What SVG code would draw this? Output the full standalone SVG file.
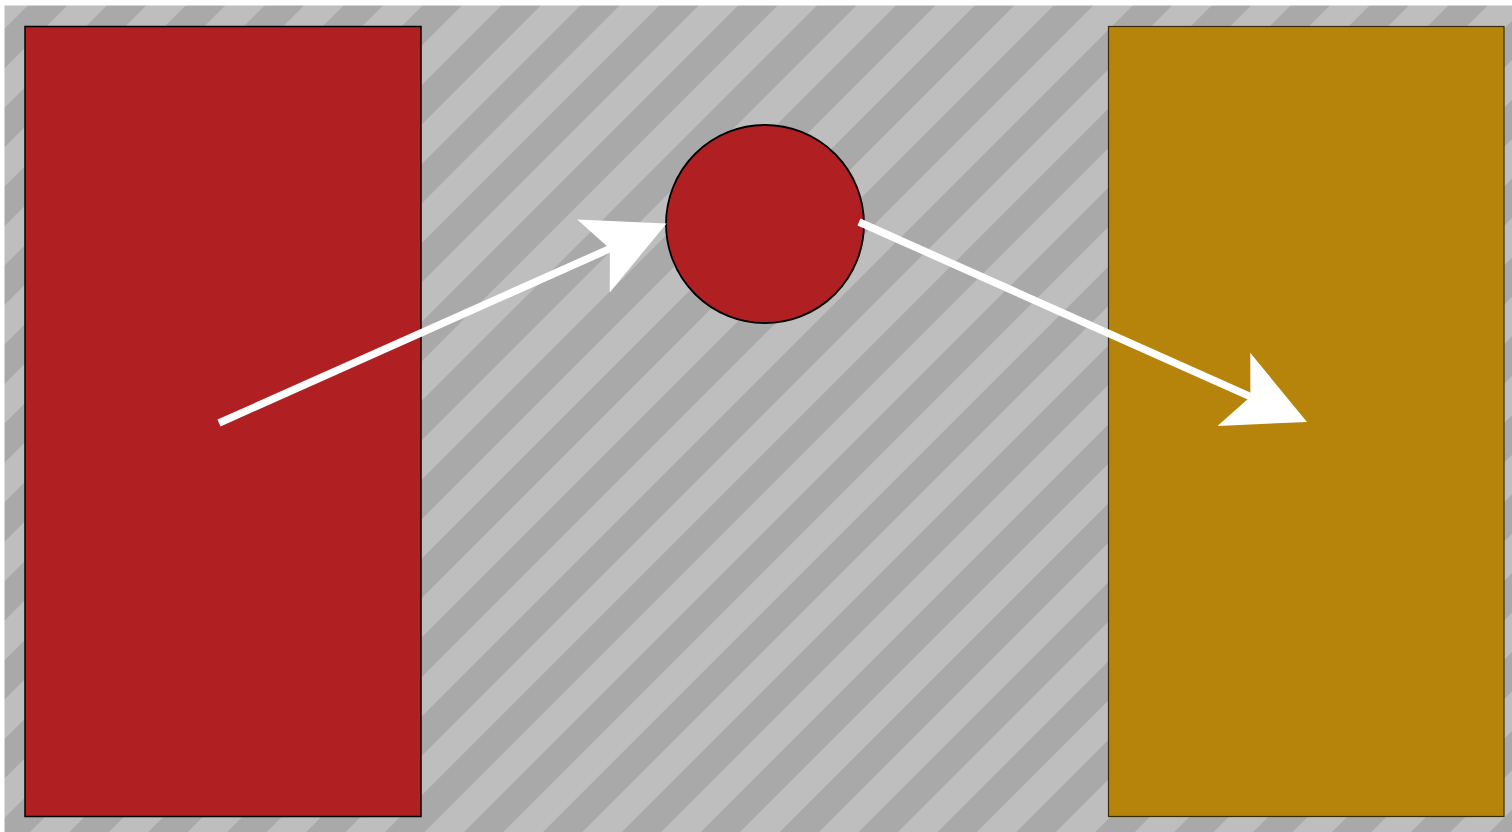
<svg xmlns="http://www.w3.org/2000/svg" width="1512" height="832" viewBox="0 0 1512 832">
  <defs>
    <pattern id="stripes" patternUnits="userSpaceOnUse" x="51.5" y="0" width="55.8" height="20" patternTransform="rotate(45)">
      <rect x="0" y="0" width="55.8" height="20" fill="#a9a9a9"/>
      <rect x="0" y="0" width="27.9" height="20" fill="#bebebe"/>
    </pattern>
    <marker id="head" markerUnits="userSpaceOnUse" markerWidth="80" markerHeight="80" refX="18" refY="40" orient="auto" viewBox="0 0 80 80">
      <path d="M0,0 L80,40 L0,80 L18,40 Z" fill="#ffffff"/>
    </marker>
    <style>
      .conn { stroke: #ffffff; stroke-width: 7.5; fill: none; marker-end: url(#head); }
    </style>
  </defs>
  <rect x="0" y="0" width="1512" height="832" fill="#ffffff"/>
  <rect id="background" x="4.5" y="5.5" width="1507.5" height="826.5" fill="url(#stripes)"/>
  <g id="node-left">
    <rect x="25" y="26.5" width="396" height="790" fill="#b02023" stroke="#000000" stroke-width="1.5"/>
  </g>
  <g id="node-right">
    <rect x="1108.5" y="26.5" width="395.5" height="790" fill="#b6840a" stroke="#3a2a05" stroke-width="1.2"/>
  </g>
  <g id="node-circle">
    <circle cx="765" cy="224" r="99" fill="#b02023" stroke="#000000" stroke-width="1.8"/>
  </g>
  <g id="connectors">
    <line class="conn" x1="219" y1="423" x2="609.9" y2="248.7"/>
    <line class="conn" x1="859" y1="222" x2="1250.4" y2="396.7"/>
  </g>
</svg>
